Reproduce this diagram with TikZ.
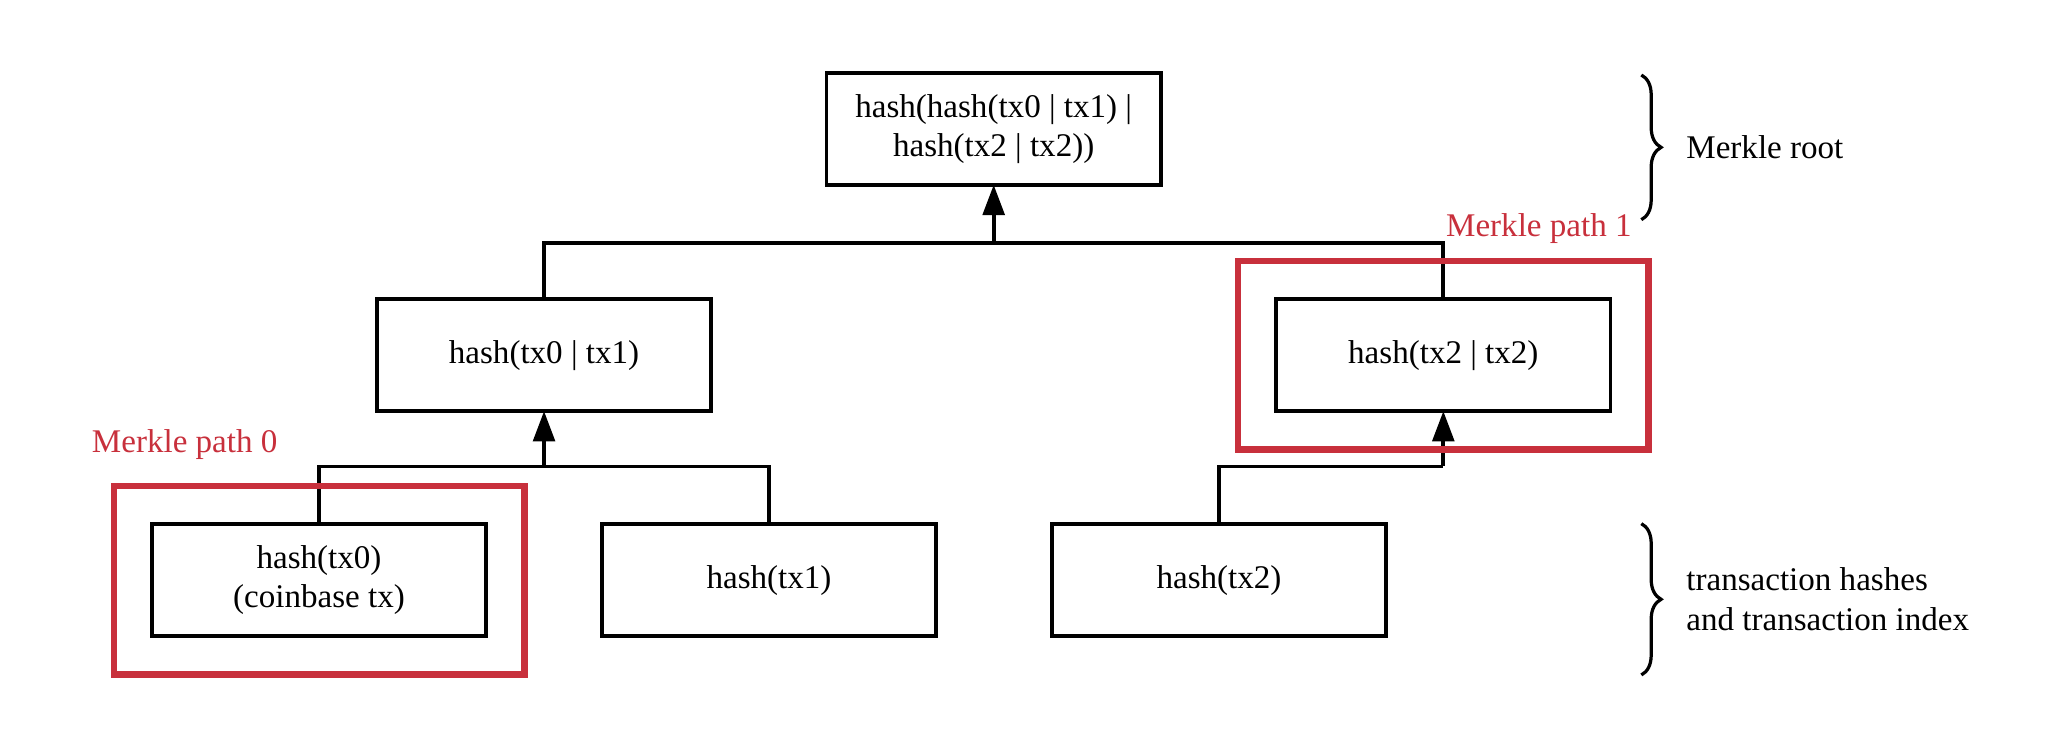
\documentclass[tikz,border=0pt]{standalone}
\usepackage{fontspec}
\setmainfont{Liberation Serif}
\usepackage{xcolor}
\usepackage{tikz}
\usetikzlibrary{arrows.meta,positioning,calc,fit,decorations.pathreplacing}

\definecolor{pathred}{HTML}{C8303C}

\begin{document}
\begin{tikzpicture}[font=\fontsize{14.3}{17.1}\selectfont,
  hashbox/.style={draw,line width=1.6pt,minimum width=5.08cm,minimum height=1.7cm,align=center,inner sep=2pt,outer sep=0pt},
  pathbox/.style={draw=pathred,line width=2.8pt,inner sep=0.58cm},
  pathlabel/.style={text=pathred,inner sep=0pt},
  link/.style={line width=1.6pt},
  uparrow/.style={link,-{Triangle[length=4.6mm,width=3.3mm]}},
  bracelbl/.style={align=left,inner sep=0pt}]
  \useasboundingbox (0,0) rectangle (31.36,11.4);

  % leaves
  \node[hashbox] (tx0) at (4.85,2.58) {hash(tx0)\\(coinbase tx)};
  \node[hashbox,right=1.76cm of tx0] (tx1) {hash(tx1)};
  \node[hashbox,right=1.76cm of tx1] (tx2) {hash(tx2)};

  % inner levels
  \node[hashbox] (tx01) at ($(tx0)!0.5!(tx1)+(0,3.42)$) {hash(tx0 | tx1)};
  \node[hashbox] (tx22) at ($(tx2)+(3.41,3.42)$) {hash(tx2 | tx2)};
  \node[hashbox] (root) at ($(tx01)!0.5!(tx22)+(0,3.44)$) {hash(hash(tx0 | tx1) |\\hash(tx2 | tx2))};

  \coordinate (j0) at ($(tx01.south)+(0,-0.84)$);
  \coordinate (j1) at ($(tx22.south)+(0,-0.84)$);
  \coordinate (j2) at ($(root.south)+(0,-0.88)$);

  \draw[link] (tx0.north) |- (j0) -| (tx1.north);
  \draw[uparrow] (j0) -- (tx01.south);
  \draw[link] (tx2.north) |- (j1);
  \draw[uparrow] (j1) -- (tx22.south);
  \draw[link] (tx01.north) |- (j2) -| (tx22.north);
  \draw[uparrow] (j2) -- (root.south);

  % merkle paths
  \node[pathbox,fit=(tx0)] (pth0) {};
  \node[pathbox,fit=(tx22)] (pth1) {};
  \node[pathlabel,anchor=base west] (pth0lbl) at ($(pth0.north west)+(-0.29,0.46)$) {Merkle path 0};
  \node[pathlabel,anchor=base east] (pth1lbl) at ($(pth1.north east)+(-0.30,0.33)$) {Merkle path 1};

  % braces
  \draw[line width=1.4pt,decorate,decoration={brace,amplitude=0.3cm}] (24.95,10.26) -- (24.95,8.06)
    node[midway,right=0.66cm,bracelbl] (rootlbl) {Merkle root};
  \draw[line width=1.4pt,decorate,decoration={brace,amplitude=0.3cm}] (24.95,3.44) -- (24.95,1.14)
    node[midway,right=0.66cm,bracelbl] (leaflbl) {transaction hashes\\and transaction index};
\end{tikzpicture}
\end{document}
